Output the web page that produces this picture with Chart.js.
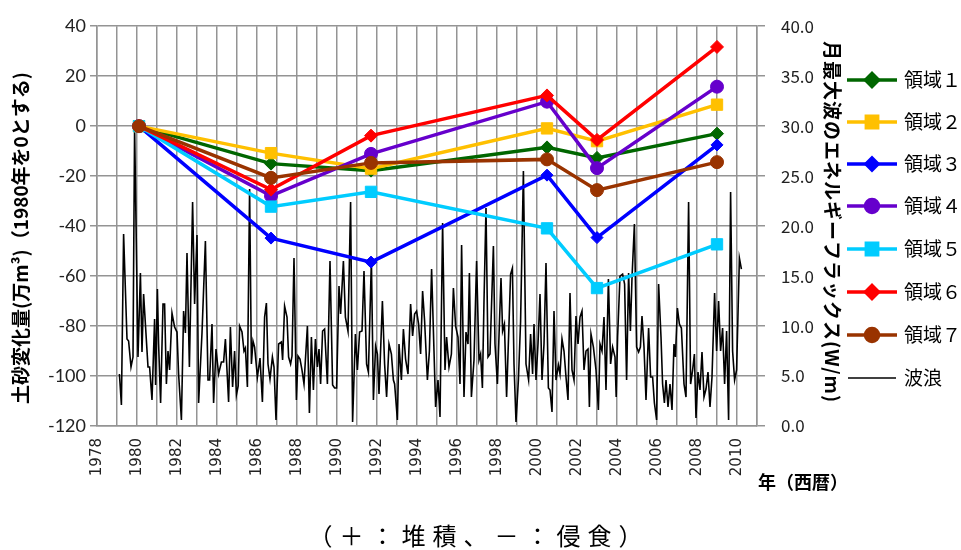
<!DOCTYPE html>
<html>
<head>
<meta charset="utf-8">
<script src="https://cdn.jsdelivr.net/npm/chart.js@4.4.1/dist/chart.umd.min.js"></script>
<style>
html, body { margin: 0; padding: 0; background: #fff; }
</style>
</head>
<body>
<canvas id="chart" width="961" height="550"></canvas>
<script>
// survey years for the sediment change series
const surveyYears = [1980.1, 1986.7, 1991.7, 2000.5, 2003.0, 2009.0];

// sediment change (10^4 m3, 1980 = 0)
const region1 = [0, -15.0, -17.8, -8.5, -12.7, -3.0];
const region2 = [0, -10.8, -17.0, -0.9, -6.0, 8.6];
const region3 = [0, -44.8, -54.4, -19.6, -44.6, -7.5];
const region4 = [0, -27.9, -11.1, 9.8, -16.8, 15.8];
const region5 = [0, -32.2, -26.3, -40.9, -64.8, -47.3];
const region6 = [0, -25.4, -3.8, 12.3, -5.5, 31.7];
const region7 = [0, -20.7, -14.7, -13.3, -25.6, -14.4];

const regionNames = ['領域１', '領域２', '領域３', '領域４', '領域５', '領域６', '領域７'];
const waveName = '波浪';

// monthly maximum wave energy flux (W/m)
const waveYears = [
  1979.12, 1979.22, 1979.33, 1979.50, 1979.58, 1979.70, 1979.80, 1979.88, 1980.05, 1980.17,
  1980.25, 1980.33, 1980.42, 1980.55, 1980.63, 1980.75, 1980.88, 1980.93, 1981.02, 1981.08,
  1981.18, 1981.30, 1981.38, 1981.47, 1981.55, 1981.63, 1981.75, 1981.88, 1982.00, 1982.08,
  1982.22, 1982.33, 1982.42, 1982.50, 1982.62, 1982.78, 1982.88, 1983.00, 1983.08, 1983.25,
  1983.42, 1983.55, 1983.63, 1983.75, 1983.83, 1983.95, 1984.08, 1984.22, 1984.33, 1984.42,
  1984.58, 1984.67, 1984.78, 1984.88, 1984.97, 1985.06, 1985.13, 1985.25, 1985.35, 1985.42,
  1985.52, 1985.63, 1985.72, 1985.80, 1985.88, 1986.02, 1986.15, 1986.27, 1986.38, 1986.47,
  1986.55, 1986.65, 1986.77, 1986.85, 1986.95, 1987.08, 1987.22, 1987.28, 1987.38, 1987.50,
  1987.58, 1987.68, 1987.75, 1987.85, 1987.97, 1988.05, 1988.15, 1988.25, 1988.35, 1988.52,
  1988.62, 1988.72, 1988.82, 1988.92, 1989.02, 1989.10, 1989.18, 1989.28, 1989.38, 1989.52,
  1989.65, 1989.78, 1989.88, 1989.98, 1990.10, 1990.18, 1990.32, 1990.42, 1990.55, 1990.68,
  1990.78, 1990.92, 1991.02, 1991.13, 1991.25, 1991.35, 1991.48, 1991.57, 1991.72, 1991.82,
  1991.93, 1992.02, 1992.10, 1992.27, 1992.38, 1992.48, 1992.60, 1992.72, 1992.82, 1992.88,
  1993.02, 1993.10, 1993.22, 1993.32, 1993.43, 1993.55, 1993.68, 1993.78, 1993.88, 1993.98,
  1994.08, 1994.18, 1994.28, 1994.38, 1994.52, 1994.62, 1994.73, 1994.85, 1994.93, 1995.05,
  1995.15, 1995.28, 1995.40, 1995.48, 1995.60, 1995.72, 1995.82, 1995.93, 1996.05, 1996.15,
  1996.23, 1996.35, 1996.45, 1996.55, 1996.62, 1996.72, 1996.85, 1996.98, 1997.10, 1997.18,
  1997.27, 1997.35, 1997.45, 1997.55, 1997.65, 1997.82, 1997.90, 1998.02, 1998.12, 1998.20,
  1998.28, 1998.37, 1998.48, 1998.60, 1998.68, 1998.77, 1998.85, 1998.95, 1999.07, 1999.18,
  1999.32, 1999.45, 1999.58, 1999.68, 1999.78, 1999.85, 1999.95, 2000.05, 2000.15, 2000.25,
  2000.35, 2000.45, 2000.57, 2000.65, 2000.75, 2000.85, 2000.95, 2001.07, 2001.15, 2001.25,
  2001.35, 2001.45, 2001.55, 2001.65, 2001.75, 2001.85, 2001.95, 2002.05, 2002.15, 2002.25,
  2002.35, 2002.45, 2002.55, 2002.62, 2002.70, 2002.82, 2002.95, 2003.07, 2003.15, 2003.25,
  2003.35, 2003.45, 2003.57, 2003.68, 2003.78, 2003.90, 2003.96, 2004.03, 2004.15, 2004.28,
  2004.38, 2004.48, 2004.58, 2004.67, 2004.75, 2004.87, 2004.98, 2005.08, 2005.17, 2005.25,
  2005.35, 2005.45, 2005.58, 2005.68, 2005.78, 2005.87, 2005.98, 2006.08, 2006.20, 2006.28,
  2006.37, 2006.45, 2006.55, 2006.65, 2006.75, 2006.85, 2006.92, 2007.02, 2007.12, 2007.22,
  2007.35, 2007.45, 2007.58, 2007.68, 2007.78, 2007.87, 2007.95, 2008.05, 2008.15, 2008.25,
  2008.35, 2008.45, 2008.55, 2008.65, 2008.75, 2008.88, 2008.98, 2009.08, 2009.18, 2009.28,
  2009.38, 2009.48, 2009.58, 2009.68, 2009.78, 2009.88, 2009.98, 2010.12, 2010.22
];
const waveEnergy = [
  5.2, 2.1, 19.2, 8.7, 8.5, 5.9, 6.9, 29.9, 6.9, 15.3,
  7.4, 13.2, 10.2, 5.9, 5.9, 2.6, 10.7, 4.1, 13.7, 8.2,
  2.3, 12.2, 12.2, 4.2, 7.5, 5.6, 11.3, 9.9, 9.4, 5.2,
  0.6, 11.5, 9.3, 17.3, 5.9, 22.4, 12.2, 19.1, 2.3, 9.3,
  18.5, 4.6, 4.6, 10.2, 2.3, 7.7, 5.2, 6.4, 6.4, 8.7,
  2.4, 9.9, 3.9, 7.5, 3.1, 4.0, 10.0, 9.4, 7.5, 7.8,
  3.9, 23.7, 6.2, 8.5, 7.9, 4.9, 6.8, 2.4, 10.9, 12.3,
  6.2, 4.7, 6.9, 5.9, 0.6, 8.2, 8.4, 6.6, 12.0, 10.9,
  6.9, 6.2, 7.0, 16.8, 2.6, 7.0, 6.7, 5.6, 4.2, 10.0,
  1.3, 8.9, 3.6, 8.7, 5.9, 7.7, 4.2, 9.5, 9.7, 4.2,
  16.5, 4.1, 3.8, 3.8, 14.0, 11.2, 16.5, 10.9, 9.5, 22.4,
  0.4, 9.2, 5.6, 9.4, 9.5, 15.5, 6.2, 5.4, 16.6, 2.6,
  8.0, 7.2, 3.2, 12.5, 6.2, 2.9, 8.2, 7.2, 4.6, 4.2,
  0.6, 8.2, 4.6, 9.7, 6.7, 5.2, 12.2, 9.0, 11.2, 11.5,
  10.2, 7.2, 13.5, 10.5, 4.6, 7.5, 15.7, 7.5, 1.9, 4.6,
  0.9, 20.3, 5.6, 8.9, 5.9, 7.2, 13.8, 10.0, 8.9, 4.2,
  18.1, 2.9, 9.4, 8.2, 15.3, 2.9, 6.6, 16.5, 6.6, 7.2,
  3.8, 12.5, 21.8, 6.9, 7.2, 18.0, 8.2, 4.2, 10.2, 14.8,
  9.5, 10.2, 2.9, 10.2, 15.2, 15.8, 6.2, 0.4, 4.6, 10.5,
  25.5, 6.2, 4.6, 9.2, 5.2, 10.2, 4.6, 8.2, 13.2, 4.6,
  8.2, 16.3, 3.8, 3.6, 1.4, 11.5, 4.6, 6.1, 5.2, 8.7,
  7.5, 4.9, 2.6, 13.3, 5.6, 4.6, 11.0, 8.2, 10.9, 11.5,
  5.6, 7.5, 7.7, 1.9, 9.2, 7.9, 5.6, 1.6, 8.2, 7.5,
  10.9, 3.6, 14.7, 6.2, 7.9, 6.9, 2.9, 8.9, 15.0, 15.2,
  14.2, 4.6, 15.3, 9.5, 14.8, 20.2, 7.9, 7.4, 7.9, 11.0,
  7.9, 2.6, 9.8, 4.9, 4.9, 2.3, 0.6, 14.2, 8.9, 4.2,
  2.3, 4.6, 1.9, 4.2, 1.6, 8.2, 6.9, 11.8, 10.2, 9.8,
  4.2, 2.9, 22.4, 4.2, 5.6, 7.2, 0.8, 5.4, 3.6, 7.4,
  2.9, 3.7, 5.4, 1.9, 4.9, 13.3, 7.5, 12.5, 7.5, 9.8,
  4.2, 9.5, 0.6, 23.4, 7.5, 4.6, 5.6, 16.8, 15.7
];

const leftTitle = '土砂変化量(万m³)（1980年を0とする)';
const rightTitle = '月最大波のエネルギーフラックス(W/m)';
const xTitle = '年（西暦）';
const caption = '（＋：堆積、－：侵食）';

const regionValues = [region1, region2, region3, region4, region5, region6, region7];
const regionStyles = [
  { color: '#006600', shape: 'rectRot', r: 6.5 },
  { color: '#FFC000', shape: 'rect', r: 8 },
  { color: '#0000FF', shape: 'rectRot', r: 6 },
  { color: '#6600CC', shape: 'circle', r: 6.5 },
  { color: '#00CCFF', shape: 'rect', r: 8 },
  { color: '#FF0000', shape: 'rectRot', r: 6.5 },
  { color: '#993300', shape: 'circle', r: 6.5 }
];

const gridColor = '#949494';

const datasets = regionValues.map((vals, i) => ({
  label: regionNames[i],
  data: surveyYears.map((yr, j) => ({ x: yr, y: vals[j] })),
  yAxisID: 'y',
  borderColor: regionStyles[i].color,
  backgroundColor: regionStyles[i].color,
  borderWidth: 3.5,
  pointStyle: regionStyles[i].shape,
  pointRadius: regionStyles[i].r,
  pointBorderWidth: 1,
  order: 7 - i
}));
datasets.push({
  label: waveName,
  data: waveYears.map((yr, j) => ({ x: yr, y: waveEnergy[j] })),
  yAxisID: 'y2',
  borderColor: '#000',
  backgroundColor: '#000',
  borderWidth: 1.6,
  pointRadius: 0,
  order: 20
});

// titles, captions and the legend are drawn by hand
const decorations = {
  id: 'decorations',
  afterDraw(chart) {
    const ctx = chart.ctx;
    ctx.save();
    ctx.fillStyle = '#000';
    ctx.textBaseline = 'middle';
    ctx.textAlign = 'center';

    ctx.font = 'bold 19px "Noto Sans CJK JP"';
    ctx.save();
    ctx.translate(21, 238);
    ctx.rotate(-Math.PI / 2);
    ctx.fillText(leftTitle, 0, 0);
    ctx.restore();

    ctx.save();
    ctx.translate(832, 222);
    ctx.rotate(Math.PI / 2);
    ctx.letterSpacing = '1px';
    ctx.fillText(rightTitle, 0, 0);
    ctx.restore();

    ctx.font = 'bold 18px "Noto Sans CJK JP"';
    ctx.textAlign = 'left';
    ctx.fillText(xTitle, 758, 482);

    ctx.textAlign = 'center';
    ctx.font = '24px "Noto Sans CJK JP"';
    ctx.letterSpacing = '7px';
    ctx.fillText(caption, 479, 536);
    ctx.letterSpacing = '0px';

    // legend
    const rowY = [80, 122, 164, 206, 249, 292, 335];
    ctx.font = '19px "Noto Sans CJK JP"';
    ctx.textAlign = 'left';
    regionStyles.forEach((st, i) => {
      const y = rowY[i];
      ctx.strokeStyle = st.color;
      ctx.lineWidth = 3.5;
      ctx.beginPath();
      ctx.moveTo(847, y);
      ctx.lineTo(897, y);
      ctx.stroke();
      ctx.fillStyle = st.color;
      Chart.helpers.drawPoint(ctx, { pointStyle: st.shape, radius: st.r, borderWidth: 1, rotation: 0 }, 872, y);
      ctx.fillStyle = '#000';
      ctx.fillText(regionNames[i], 904, y);
    });
    ctx.strokeStyle = '#000';
    ctx.lineWidth = 1.6;
    ctx.beginPath();
    ctx.moveTo(848, 378);
    ctx.lineTo(896, 378);
    ctx.stroke();
    ctx.fillText(waveName, 904, 378);
    ctx.restore();
  }
};

new Chart(document.getElementById('chart'), {
  type: 'line',
  data: { datasets: datasets },
  options: {
    responsive: false,
    animation: false,
    layout: { padding: { top: 23 } },
    plugins: { legend: { display: false }, tooltip: { enabled: false } },
    scales: {
      x: {
        type: 'linear',
        min: 1978,
        max: 2011,
        afterFit: (s) => { s.height = 124; },
        border: { color: gridColor, width: 1.5 },
        grid: { color: gridColor, lineWidth: 1.5, drawTicks: false },
        ticks: {
          stepSize: 1,
          maxTicksLimit: 100,
          autoSkip: false,
          minRotation: 90,
          maxRotation: 90,
          padding: 12,
          color: '#222',
          font: { family: 'DejaVu Sans', size: 15 },
          callback: (v) => (v % 2 === 0 ? String(v) : '')
        }
      },
      y: {
        position: 'left',
        min: -120,
        max: 40,
        afterFit: (s) => { s.width = 97; },
        border: { color: gridColor, width: 1.5 },
        grid: { color: gridColor, lineWidth: 1.5, tickLength: 7 },
        ticks: {
          stepSize: 20,
          padding: 4,
          color: '#222',
          font: { family: 'Lato', size: 18 }
        }
      },
      y2: {
        position: 'right',
        min: 0,
        max: 40,
        afterFit: (s) => { s.width = 204; },
        border: { color: gridColor, width: 1.5 },
        grid: { drawOnChartArea: false, color: gridColor, lineWidth: 1.5, tickLength: 8 },
        ticks: {
          stepSize: 5,
          padding: 16,
          color: '#222',
          font: { family: 'Noto Sans CJK JP', size: 17 },
          callback: (v) => v.toFixed(1)
        }
      }
    }
  },
  plugins: [decorations]
});
</script>
</body>
</html>
